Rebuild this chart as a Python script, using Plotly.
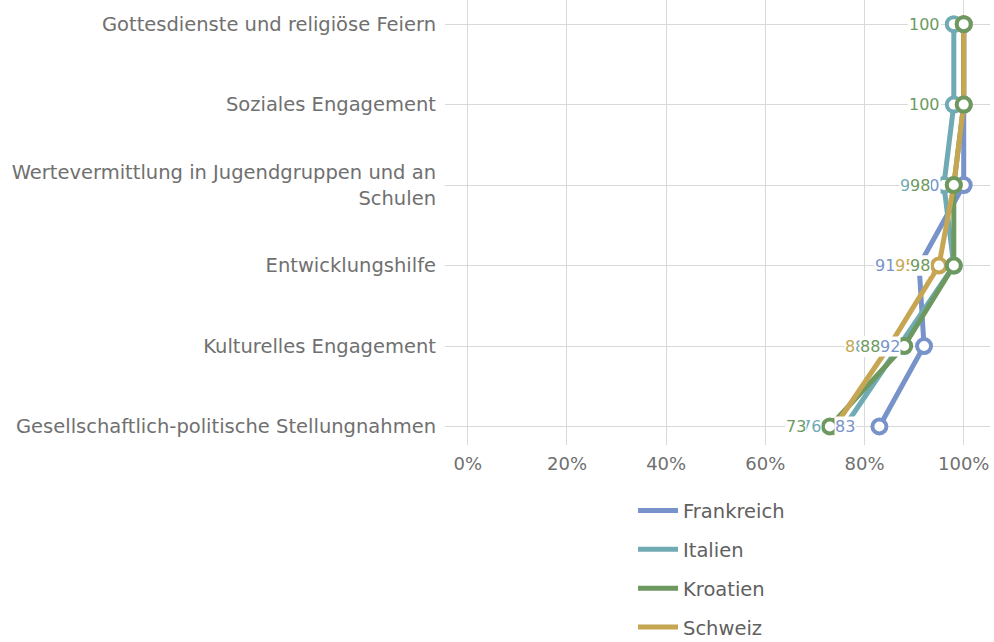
import plotly.graph_objects as go

# categories, top to bottom
categories = [
    "Gottesdienste und religiöse Feiern",
    "Soziales Engagement",
    "Wertevermittlung in Jugendgruppen und an<br>Schulen",
    "Entwicklungshilfe",
    "Kulturelles Engagement",
    "Gesellschaftlich-politische Stellungnahmen",
]

# values in percent
frankreich = [100, 100, 100, 91, 92, 83]
italien = [98, 98, 96, 98, 87, 76]
kroatien = [100, 100, 98, 98, 88, 73]
schweiz = [100, 100, 98, 95, 85, 74]

x_ticks = [0, 20, 40, 60, 80, 100]
x_tick_labels = ["0%", "20%", "40%", "60%", "80%", "100%"]

FONT = "DejaVu Sans"
series = {
    "Frankreich": (frankreich, "#7793c9"),
    "Italien": (italien, "#70aab5"),
    "Kroatien": (kroatien, "#6d9960"),
    "Schweiz": (schweiz, "#c6a653"),
}
legend_rank = {"Frankreich": 1, "Italien": 2, "Kroatien": 3, "Schweiz": 4}

fig = go.Figure()

# lines first (yellow ends up on top), markers in a second pass (green on top)
for name in ["Frankreich", "Italien", "Kroatien", "Schweiz"]:
    vals, color = series[name]
    fig.add_trace(go.Scatter(
        x=vals, y=categories, mode="lines", name=name,
        line=dict(color=color, width=5), legendgroup=name,
        legendrank=legend_rank[name], hoverinfo="skip",
    ))

for name in ["Frankreich", "Italien", "Schweiz", "Kroatien"]:
    vals, color = series[name]
    fig.add_trace(go.Scatter(
        x=vals, y=categories, mode="markers", showlegend=False,
        marker=dict(size=14, color="white", line=dict(color=color, width=4)),
        hoverinfo="skip",
    ))

# value labels left of the markers, white background
for name in ["Frankreich", "Schweiz", "Italien", "Kroatien"]:
    vals, color = series[name]
    for v, c in zip(vals, categories):
        fig.add_annotation(
            x=v, y=c, text=str(v), showarrow=False, xanchor="right",
            xshift=-23, bgcolor="white", borderpad=0,
            font=dict(family=FONT, size=16, color=color),
        )

fig.update_xaxes(
    range=[-4.6, 105.3], tickvals=x_ticks, ticktext=x_tick_labels,
    showgrid=True, gridcolor="#d9d9d9", gridwidth=1, zeroline=False,
    showline=False, ticks="", ticklabelstandoff=6, automargin=False,
    tickfont=dict(family=FONT, size=18, color="#707070"),
)
fig.update_yaxes(
    type="category", categoryorder="array", categoryarray=categories,
    range=[5.23, -0.3], showgrid=True, gridcolor="#d9d9d9", gridwidth=1,
    zeroline=False, showline=False, ticks="", ticklabelstandoff=8,
    automargin=False,
    tickfont=dict(family=FONT, size=19.5, color="#707070"),
)

fig.update_layout(
    width=994, height=642,
    margin=dict(l=445, r=4, t=0, b=197, autoexpand=False),
    plot_bgcolor="white", paper_bgcolor="white",
    font=dict(family=FONT, color="#606060"),
    legend=dict(
        orientation="v", x=0.345, xanchor="left", y=-0.104, yanchor="top",
        font=dict(family=FONT, size=19.5, color="#606060"),
        tracegroupgap=10.5, itemwidth=40,
    ),
)

# the page should start at the very top-left corner
fig.write_html(
    "out.html",
    config={"displayModeBar": False},
    post_script="document.body.style.margin='0px';",
)
